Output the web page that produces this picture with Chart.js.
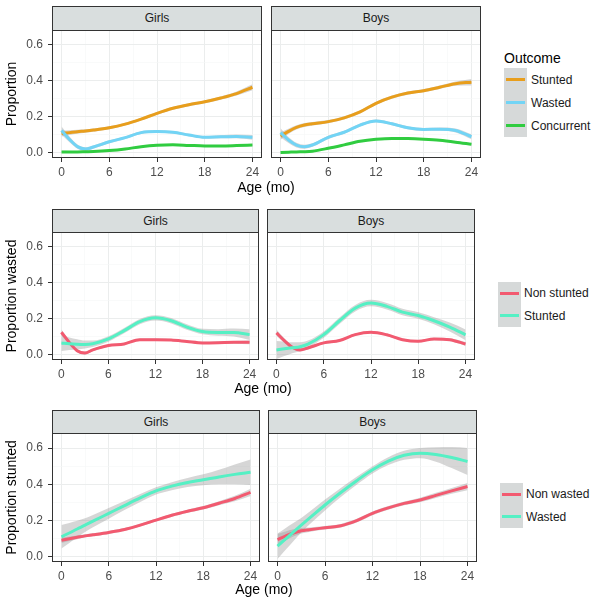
<!DOCTYPE html>
<html>
<head>
<meta charset="utf-8">
<script src="https://cdn.jsdelivr.net/npm/chart.js@4.4.0/dist/chart.umd.min.js"></script>
<style>
  body { margin: 0; width: 605px; height: 605px; background: #fff; position: relative; overflow: hidden;
         font-family: "Liberation Sans", Arial, Helvetica, sans-serif; }
  canvas { position: absolute; }
  .strip { position: absolute; box-sizing: border-box; background: #d9dede; border: 1px solid #333;
           font-size: 12px; color: #1a1a1a; text-align: center; }
  .xtitle { position: absolute; font-size: 14px; color: #000; transform: translate(-50%, -50%); white-space: nowrap; }
  .ltitle { position: absolute; font-size: 14px; color: #000; white-space: nowrap; }
  .key { position: absolute; width: 23px; background: #d6d9d9; }
  .key span { position: absolute; left: 2px; right: 2px; height: 3px; top: 50%; margin-top: -1.5px; }
  .klab { position: absolute; font-size: 12px; color: #1a1a1a; white-space: nowrap; transform: translateY(-50%); }
</style>
</head>
<body>
<script>
// --- Dados ---
const ages = [0, 1, 2, 3, 4, 6, 8, 10, 12, 14, 16, 18, 20, 22, 24];
const xTicks = [0, 3, 6, 9, 12, 15, 18, 21, 24];
const yTicks = [0, 0.1, 0.2, 0.3, 0.4, 0.5, 0.6];

// linha 1: Proportion
const girlsStunted    = [0.108, 0.113, 0.118, 0.122, 0.127, 0.140, 0.160, 0.188, 0.220, 0.248, 0.268, 0.284, 0.305, 0.330, 0.365];
const girlsWasted     = [0.125, 0.075, 0.035, 0.022, 0.033, 0.062, 0.085, 0.113, 0.119, 0.115, 0.100, 0.087, 0.090, 0.092, 0.087];
const girlsConcurrent = [0.006, 0.006, 0.006, 0.007, 0.008, 0.013, 0.022, 0.035, 0.043, 0.045, 0.042, 0.039, 0.039, 0.041, 0.044];
const boysStunted     = [0.094, 0.120, 0.142, 0.155, 0.162, 0.174, 0.195, 0.228, 0.276, 0.310, 0.333, 0.346, 0.365, 0.385, 0.393];
const boysWasted      = [0.113, 0.072, 0.044, 0.035, 0.044, 0.087, 0.115, 0.155, 0.178, 0.162, 0.140, 0.131, 0.132, 0.125, 0.090];
const boysConcurrent  = [0.002, 0.004, 0.006, 0.007, 0.010, 0.026, 0.045, 0.065, 0.076, 0.081, 0.080, 0.076, 0.070, 0.060, 0.048];
const girlsStuntedSe    = [0.016, 0.013, 0.011, 0.010, 0.009, 0.008, 0.008, 0.008, 0.008, 0.008, 0.008, 0.008, 0.009, 0.011, 0.016];
const girlsWastedSe     = [0.022, 0.016, 0.012, 0.010, 0.009, 0.008, 0.007, 0.007, 0.007, 0.007, 0.007, 0.007, 0.008, 0.010, 0.013];
const girlsConcurrentSe = [0.006, 0.005, 0.004, 0.004, 0.004, 0.004, 0.004, 0.004, 0.004, 0.004, 0.004, 0.004, 0.004, 0.005, 0.006];
const boysStuntedSe     = [0.020, 0.015, 0.012, 0.011, 0.010, 0.009, 0.009, 0.009, 0.009, 0.009, 0.009, 0.009, 0.010, 0.012, 0.018];
const boysWastedSe      = [0.024, 0.017, 0.013, 0.011, 0.010, 0.009, 0.008, 0.008, 0.008, 0.008, 0.008, 0.008, 0.009, 0.011, 0.014];
const boysConcurrentSe  = [0.006, 0.005, 0.004, 0.004, 0.004, 0.004, 0.004, 0.004, 0.004, 0.004, 0.004, 0.004, 0.004, 0.005, 0.006];

// linha 2: Proportion wasted
const girlsWNonStunted = [0.126, 0.070, 0.024, 0.011, 0.028, 0.052, 0.061, 0.085, 0.085, 0.083, 0.075, 0.067, 0.068, 0.070, 0.070];
const girlsWStunted    = [0.067, 0.062, 0.059, 0.058, 0.062, 0.089, 0.135, 0.185, 0.206, 0.190, 0.155, 0.130, 0.125, 0.125, 0.113];
const boysWNonStunted  = [0.123, 0.080, 0.043, 0.028, 0.039, 0.067, 0.080, 0.113, 0.126, 0.112, 0.085, 0.076, 0.089, 0.085, 0.061];
const boysWStunted     = [0.028, 0.034, 0.040, 0.046, 0.060, 0.113, 0.190, 0.260, 0.288, 0.270, 0.238, 0.219, 0.190, 0.155, 0.112];
const girlsWNonStuntedSe = [0.016, 0.012, 0.009, 0.008, 0.007, 0.006, 0.006, 0.006, 0.006, 0.006, 0.006, 0.006, 0.007, 0.008, 0.010];
const girlsWStuntedSe    = [0.045, 0.035, 0.028, 0.022, 0.018, 0.015, 0.015, 0.015, 0.015, 0.015, 0.015, 0.015, 0.018, 0.022, 0.030];
const boysWNonStuntedSe  = [0.018, 0.013, 0.010, 0.008, 0.007, 0.006, 0.006, 0.006, 0.006, 0.006, 0.006, 0.006, 0.007, 0.008, 0.011];
const boysWStuntedSe     = [0.050, 0.040, 0.030, 0.025, 0.020, 0.018, 0.018, 0.018, 0.018, 0.018, 0.018, 0.018, 0.020, 0.025, 0.030];

// linha 3: Proportion stunted
const girlsSNonWasted = [0.092, 0.100, 0.108, 0.116, 0.122, 0.135, 0.151, 0.175, 0.203, 0.230, 0.252, 0.271, 0.296, 0.322, 0.356];
const girlsSWasted    = [0.111, 0.132, 0.154, 0.175, 0.197, 0.240, 0.283, 0.325, 0.364, 0.390, 0.410, 0.425, 0.441, 0.455, 0.467];
const boysSNonWasted  = [0.096, 0.115, 0.132, 0.144, 0.150, 0.161, 0.172, 0.200, 0.240, 0.270, 0.295, 0.314, 0.339, 0.364, 0.388];
const boysSWasted     = [0.059, 0.098, 0.137, 0.175, 0.212, 0.286, 0.355, 0.420, 0.480, 0.528, 0.560, 0.572, 0.565, 0.548, 0.526];
const girlsSNonWastedSe = [0.015, 0.012, 0.010, 0.009, 0.008, 0.008, 0.008, 0.008, 0.008, 0.008, 0.008, 0.009, 0.011, 0.015, 0.020];
const girlsSWastedSe    = [0.065, 0.055, 0.045, 0.038, 0.034, 0.030, 0.025, 0.022, 0.020, 0.022, 0.025, 0.030, 0.040, 0.055, 0.070];
const boysSNonWastedSe  = [0.030, 0.025, 0.020, 0.015, 0.012, 0.010, 0.010, 0.010, 0.010, 0.010, 0.010, 0.012, 0.014, 0.016, 0.020];
const boysSWastedSe     = [0.070, 0.060, 0.050, 0.040, 0.035, 0.030, 0.025, 0.022, 0.020, 0.022, 0.025, 0.028, 0.040, 0.058, 0.075];

const outcomeLabels = ["Stunted", "Wasted", "Concurrent"];
const wastedLabels = ["Non stunted", "Stunted"];
const stuntedLabels = ["Non wasted", "Wasted"];

// --- Cores ---
const laranja = "#E89E1C", azul = "#72D4F5", verde = "#30CC40";
const vermelho = "#F25A70", aqua = "#55F0C4";
const faixa = "rgba(153,153,153,0.4)";

// --- Painéis (posição na página) ---
const paineis = [
  { strip: "Girls", x0: 52,  x1: 262, y0: 30,  y1: 158, sTop: 6,   ytitle: "Proportion",
    series: [[girlsStunted, girlsStuntedSe, laranja], [girlsWasted, girlsWastedSe, azul], [girlsConcurrent, girlsConcurrentSe, verde]] },
  { strip: "Boys",  x0: 271, x1: 481, y0: 30,  y1: 158, sTop: 6,
    series: [[boysStunted, boysStuntedSe, laranja], [boysWasted, boysWastedSe, azul], [boysConcurrent, boysConcurrentSe, verde]] },
  { strip: "Girls", x0: 52,  x1: 259, y0: 232, y1: 360, sTop: 209, ytitle: "Proportion wasted",
    series: [[girlsWNonStunted, girlsWNonStuntedSe, vermelho], [girlsWStunted, girlsWStuntedSe, aqua]] },
  { strip: "Boys",  x0: 267, x1: 475, y0: 232, y1: 360, sTop: 209,
    series: [[boysWNonStunted, boysWNonStuntedSe, vermelho], [boysWStunted, boysWStuntedSe, aqua]] },
  { strip: "Girls", x0: 52,  x1: 260, y0: 433, y1: 562, sTop: 410, ytitle: "Proportion stunted",
    series: [[girlsSNonWasted, girlsSNonWastedSe, vermelho], [girlsSWasted, girlsSWastedSe, aqua]] },
  { strip: "Boys",  x0: 268, x1: 477, y0: 433, y1: 562, sTop: 410,
    series: [[boysSNonWasted, boysSNonWastedSe, vermelho], [boysSWasted, boysSWastedSe, aqua]] }
];

const FONTE = '"Liberation Sans", Arial, Helvetica, sans-serif';
const padR = 8, xH = 22;

// --- Borda do painel ---
const bordaPainel = {
  id: "bordaPainel",
  afterDraw(chart) {
    const a = chart.chartArea, ctx = chart.ctx;
    ctx.save();
    ctx.strokeStyle = "#333";
    ctx.lineWidth = 1;
    ctx.strokeRect(Math.round(a.left) + 0.5, Math.round(a.top) + 0.5,
                   Math.round(a.right - a.left) - 1, Math.round(a.bottom - a.top) - 1);
    ctx.restore();
  }
};

function criarDatasets(series) {
  const ds = [];
  const n = series.length;
  series.forEach(([vals, se, cor], k) => {
    const base = ds.length;
    ds.push({ data: ages.map((a, i) => ({ x: a, y: vals[i] + se[i] })), borderWidth: 0, pointRadius: 0,
              fill: false, cubicInterpolationMode: "monotone", order: 20 + k });
    ds.push({ data: ages.map((a, i) => ({ x: a, y: vals[i] - se[i] })), borderWidth: 0, pointRadius: 0,
              fill: base, backgroundColor: faixa, cubicInterpolationMode: "monotone", order: 20 + k });
    ds.push({ data: ages.map((a, i) => ({ x: a, y: vals[i] })), borderColor: cor, borderWidth: 3, pointRadius: 0,
              fill: false, cubicInterpolationMode: "monotone", order: n - k });
  });
  return ds;
}

function desenharPainel(p) {
  const esquerdo = !!p.ytitle;
  const yW = esquerdo ? p.x0 : 0;
  const pw = p.x1 - p.x0, ph = p.y1 - p.y0;

  const strip = document.createElement("div");
  strip.className = "strip";
  strip.style.left = p.x0 + "px";
  strip.style.top = p.sTop + "px";
  strip.style.width = pw + "px";
  strip.style.height = (p.y0 - p.sTop + 1) + "px";
  strip.style.lineHeight = (p.y0 - p.sTop - 1) + "px";
  strip.textContent = p.strip;
  document.body.appendChild(strip);

  const cv = document.createElement("canvas");
  const w = yW + pw + padR, h = ph + xH;
  cv.width = w; cv.height = h;
  cv.style.left = (p.x0 - yW) + "px";
  cv.style.top = p.y0 + "px";
  cv.style.width = w + "px"; cv.style.height = h + "px";
  document.body.appendChild(cv);

  new Chart(cv.getContext("2d"), {
    type: "line",
    data: { datasets: criarDatasets(p.series) },
    options: {
      responsive: false,
      animation: false,
      events: [],
      layout: { padding: { left: 0, right: padR, top: 0, bottom: 0 } },
      plugins: { legend: { display: false }, tooltip: { enabled: false } },
      scales: {
        x: {
          type: "linear", min: -1.2, max: 25.2,
          afterBuildTicks: s => { s.ticks = xTicks.map(v => ({ value: v })); },
          afterFit: s => { s.height = xH; s.paddingLeft = 0; s.paddingRight = 0; },
          border: { display: false },
          grid: {
            color: c => (c.tick && c.tick.value % 6 === 0) ? "#ebeded" : "#f5f6f6",
            lineWidth: c => (c.tick && c.tick.value % 6 === 0) ? 1 : 0.6,
            tickColor: c => (c.tick && c.tick.value % 6 === 0) ? "#333" : "rgba(0,0,0,0)",
            tickLength: 4
          },
          ticks: {
            autoSkip: false, maxRotation: 0, padding: 3,
            font: { size: 12, family: FONTE }, color: "#4d4d4d",
            callback: v => (v % 6 === 0 ? String(v) : "")
          }
        },
        y: {
          type: "linear", min: -0.028, max: 0.683,
          afterBuildTicks: s => { s.ticks = yTicks.map(v => ({ value: v })); },
          afterFit: s => { s.width = yW; s.paddingTop = 0; s.paddingBottom = 0; },
          border: { display: false },
          title: { display: esquerdo, text: p.ytitle || "", color: "#000",
                   font: { size: 14, family: FONTE }, padding: { top: 4, bottom: 0 } },
          grid: {
            color: c => (c.index % 2 === 0) ? "#ebeded" : "#f5f6f6",
            lineWidth: c => (c.index % 2 === 0) ? 1 : 0.6,
            tickColor: c => (c.index % 2 === 0) ? "#333" : "rgba(0,0,0,0)",
            tickLength: esquerdo ? 4 : 0,
            drawTicks: esquerdo
          },
          ticks: {
            display: esquerdo, padding: 5,
            font: { size: 12, family: FONTE }, color: "#4d4d4d",
            callback: (v, i) => (i % 2 === 0 ? v.toFixed(1) : "")
          }
        }
      }
    },
    plugins: [bordaPainel]
  });
}

function titulo(texto, x, y) {
  const d = document.createElement("div");
  d.className = "xtitle";
  d.style.left = x + "px"; d.style.top = y + "px";
  d.textContent = texto;
  document.body.appendChild(d);
}

function legenda(titleText, labels, cores, kx, ky, kh, lx) {
  if (titleText) {
    const t = document.createElement("div");
    t.className = "ltitle";
    t.style.left = kx + "px"; t.style.top = (ky - 18) + "px";
    t.textContent = titleText;
    document.body.appendChild(t);
  }
  labels.forEach((lab, i) => {
    const k = document.createElement("div");
    k.className = "key";
    k.style.left = kx + "px";
    k.style.top = (ky + i * kh) + "px";
    k.style.height = kh + "px";
    const s = document.createElement("span");
    s.style.background = cores[i];
    k.appendChild(s);
    document.body.appendChild(k);
    const l = document.createElement("div");
    l.className = "klab";
    l.style.left = lx + "px";
    l.style.top = (ky + i * kh + kh / 2) + "px";
    l.textContent = lab;
    document.body.appendChild(l);
  });
}

// --- Inicialização ---
paineis.forEach(desenharPainel);
titulo("Age (mo)", 266, 187);
titulo("Age (mo)", 263, 388);
titulo("Age (mo)", 264, 589);
legenda("Outcome", outcomeLabels, [laranja, azul, verde], 504, 68, 23, 531);
legenda(null, wastedLabels, [vermelho, aqua], 498, 282, 22.5, 524);
legenda(null, stuntedLabels, [vermelho, aqua], 500, 483, 22.5, 526);
</script>
</body>
</html>
